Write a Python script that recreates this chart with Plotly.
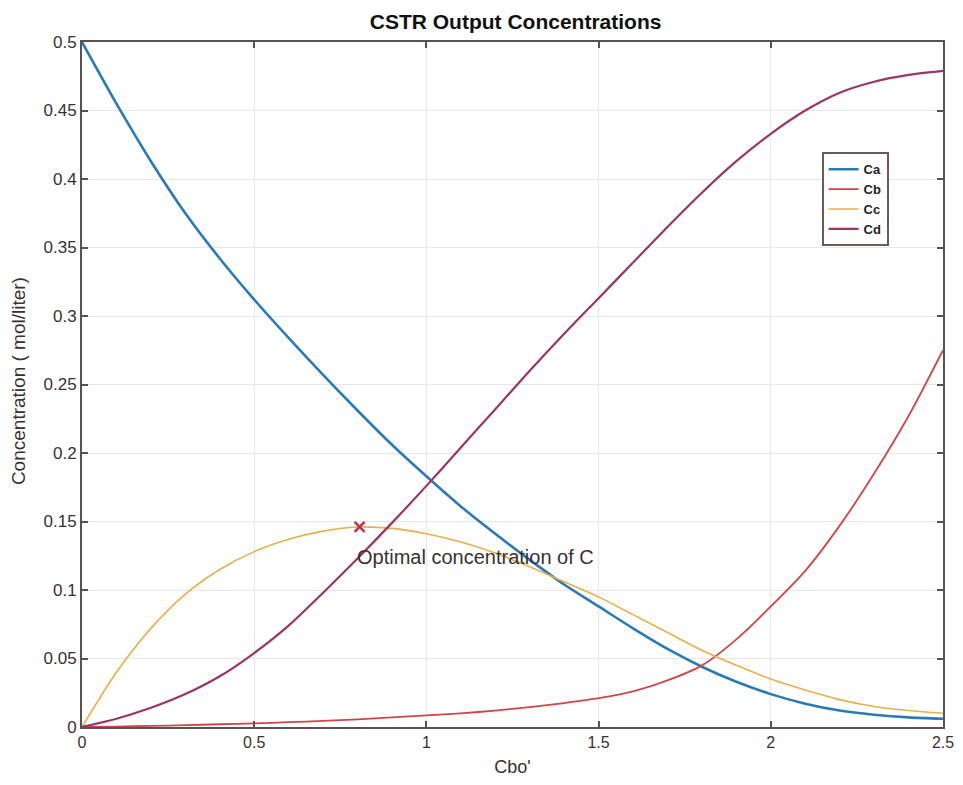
import plotly.graph_objects as go

cbo = [0.0, 0.1, 0.2, 0.3, 0.4, 0.5, 0.6, 0.7, 0.8, 0.9, 1.0, 1.1, 1.2, 1.3,
       1.4, 1.5, 1.6, 1.7, 1.8, 1.9, 2.0, 2.1, 2.2, 2.3, 2.4, 2.5]
ca = [0.5, 0.455, 0.413, 0.375, 0.342, 0.312, 0.284, 0.257, 0.231, 0.206, 0.183,
      0.161, 0.141, 0.122, 0.104, 0.088, 0.072, 0.057, 0.044, 0.033, 0.024,
      0.017, 0.012, 0.009, 0.007, 0.006]
cb = [0.0, 0.0003, 0.0008, 0.0013, 0.002, 0.0027, 0.0035, 0.0045, 0.0056, 0.007,
      0.0085, 0.010, 0.012, 0.0145, 0.0175, 0.021, 0.026, 0.034, 0.045, 0.064,
      0.088, 0.114, 0.147, 0.185, 0.227, 0.275]
cc = [0.0, 0.040, 0.072, 0.097, 0.115, 0.128, 0.137, 0.143, 0.146, 0.145, 0.141,
      0.135, 0.127, 0.117, 0.106, 0.095, 0.082, 0.069, 0.056, 0.045, 0.035,
      0.027, 0.020, 0.015, 0.012, 0.010]
cd = [0.0, 0.006, 0.014, 0.024, 0.037, 0.054, 0.074, 0.098, 0.123, 0.149, 0.176,
      0.204, 0.232, 0.260, 0.287, 0.313, 0.339, 0.365, 0.390, 0.413, 0.433,
      0.450, 0.463, 0.471, 0.476, 0.479]
opt_x = [0.806]
opt_y = [0.146]
series_names = ["Ca", "Cb", "Cc", "Cd"]
xticks = [0, 0.5, 1, 1.5, 2, 2.5]
xticklabels = ["0", "0.5", "1", "1.5", "2", "2.5"]
yticks = [0, 0.05, 0.1, 0.15, 0.2, 0.25, 0.3, 0.35, 0.4, 0.45, 0.5]
yticklabels = ["0", "0.05", "0.1", "0.15", "0.2", "0.25", "0.3", "0.35",
               "0.4", "0.45", "0.5"]

FONT = "Liberation Sans"
TXT = "#3a3030"

fig = go.Figure()
fig.add_trace(go.Scatter(x=cbo, y=ca, mode="lines", name=series_names[0],
                         line=dict(color="#2a7ab8", width=2.6, shape="spline", smoothing=0.8)))
fig.add_trace(go.Scatter(x=cbo, y=cb, mode="lines", name=series_names[1],
                         line=dict(color="#d0454a", width=1.8, shape="spline", smoothing=0.8)))
fig.add_trace(go.Scatter(x=cbo, y=cc, mode="lines", name=series_names[2],
                         line=dict(color="#e8b04a", width=1.6, shape="spline", smoothing=0.8)))
fig.add_trace(go.Scatter(x=cbo, y=cd, mode="lines", name=series_names[3],
                         line=dict(color="#9a3564", width=2.2, shape="spline", smoothing=0.8)))
fig.add_trace(go.Scatter(x=opt_x, y=opt_y, mode="markers", showlegend=False,
                         marker=dict(symbol="x-thin", size=10, color="#c0304a",
                                     line=dict(color="#c0304a", width=2.5))))

fig.add_annotation(x=opt_x[0] - 0.012, y=0.124, text="Optimal concentration of C",
                   showarrow=False, xanchor="left", yanchor="middle",
                   font=dict(family=FONT, size=20, color=TXT))

# y-axis title placed as rotated text left of the tick labels
fig.add_annotation(xref="paper", yref="paper", x=-0.0743, y=0.505,
                   text="Concentration ( mol/liter)", textangle=-90,
                   showarrow=False, xanchor="center", yanchor="middle",
                   font=dict(family=FONT, size=19, color=TXT))

axis_common = dict(showline=True, linecolor="#5a5050", linewidth=2, mirror="ticks",
                   ticks="inside", ticklen=6, tickcolor="#5a5050", tickwidth=1.5,
                   showgrid=True, gridcolor="#e8e8e8", gridwidth=1, zeroline=False,
                   ticklabeloverflow="allow")

fig.update_layout(
    width=947, height=769,
    margin=dict(l=74, r=12, t=34, b=50, autoexpand=False),
    paper_bgcolor="white", plot_bgcolor="white",
    title=dict(text="<b>CSTR Output Concentrations</b>", x=0.536, xanchor="center",
               y=0.982, yanchor="middle", yref="container",
               font=dict(family=FONT, size=21, color="#111111")),
    xaxis=dict(range=[0, 2.5], tickvals=xticks, ticktext=xticklabels,
               tickfont=dict(family=FONT, size=16, color=TXT),
               title=dict(text="Cbo'", standoff=10,
                          font=dict(family=FONT, size=18, color=TXT)),
               **axis_common),
    yaxis=dict(range=[0, 0.5], tickvals=yticks, ticktext=yticklabels,
               tickfont=dict(family=FONT, size=17, color=TXT),
               **axis_common),
    legend=dict(x=0.859, y=0.839, xanchor="left", yanchor="top",
                bgcolor="white", bordercolor="#6a5a5a", borderwidth=2,
                font=dict(family=FONT, size=13, color="#222222", weight="bold"),
                tracegroupgap=0),
    showlegend=True,
)

fig.write_html("out.html")
